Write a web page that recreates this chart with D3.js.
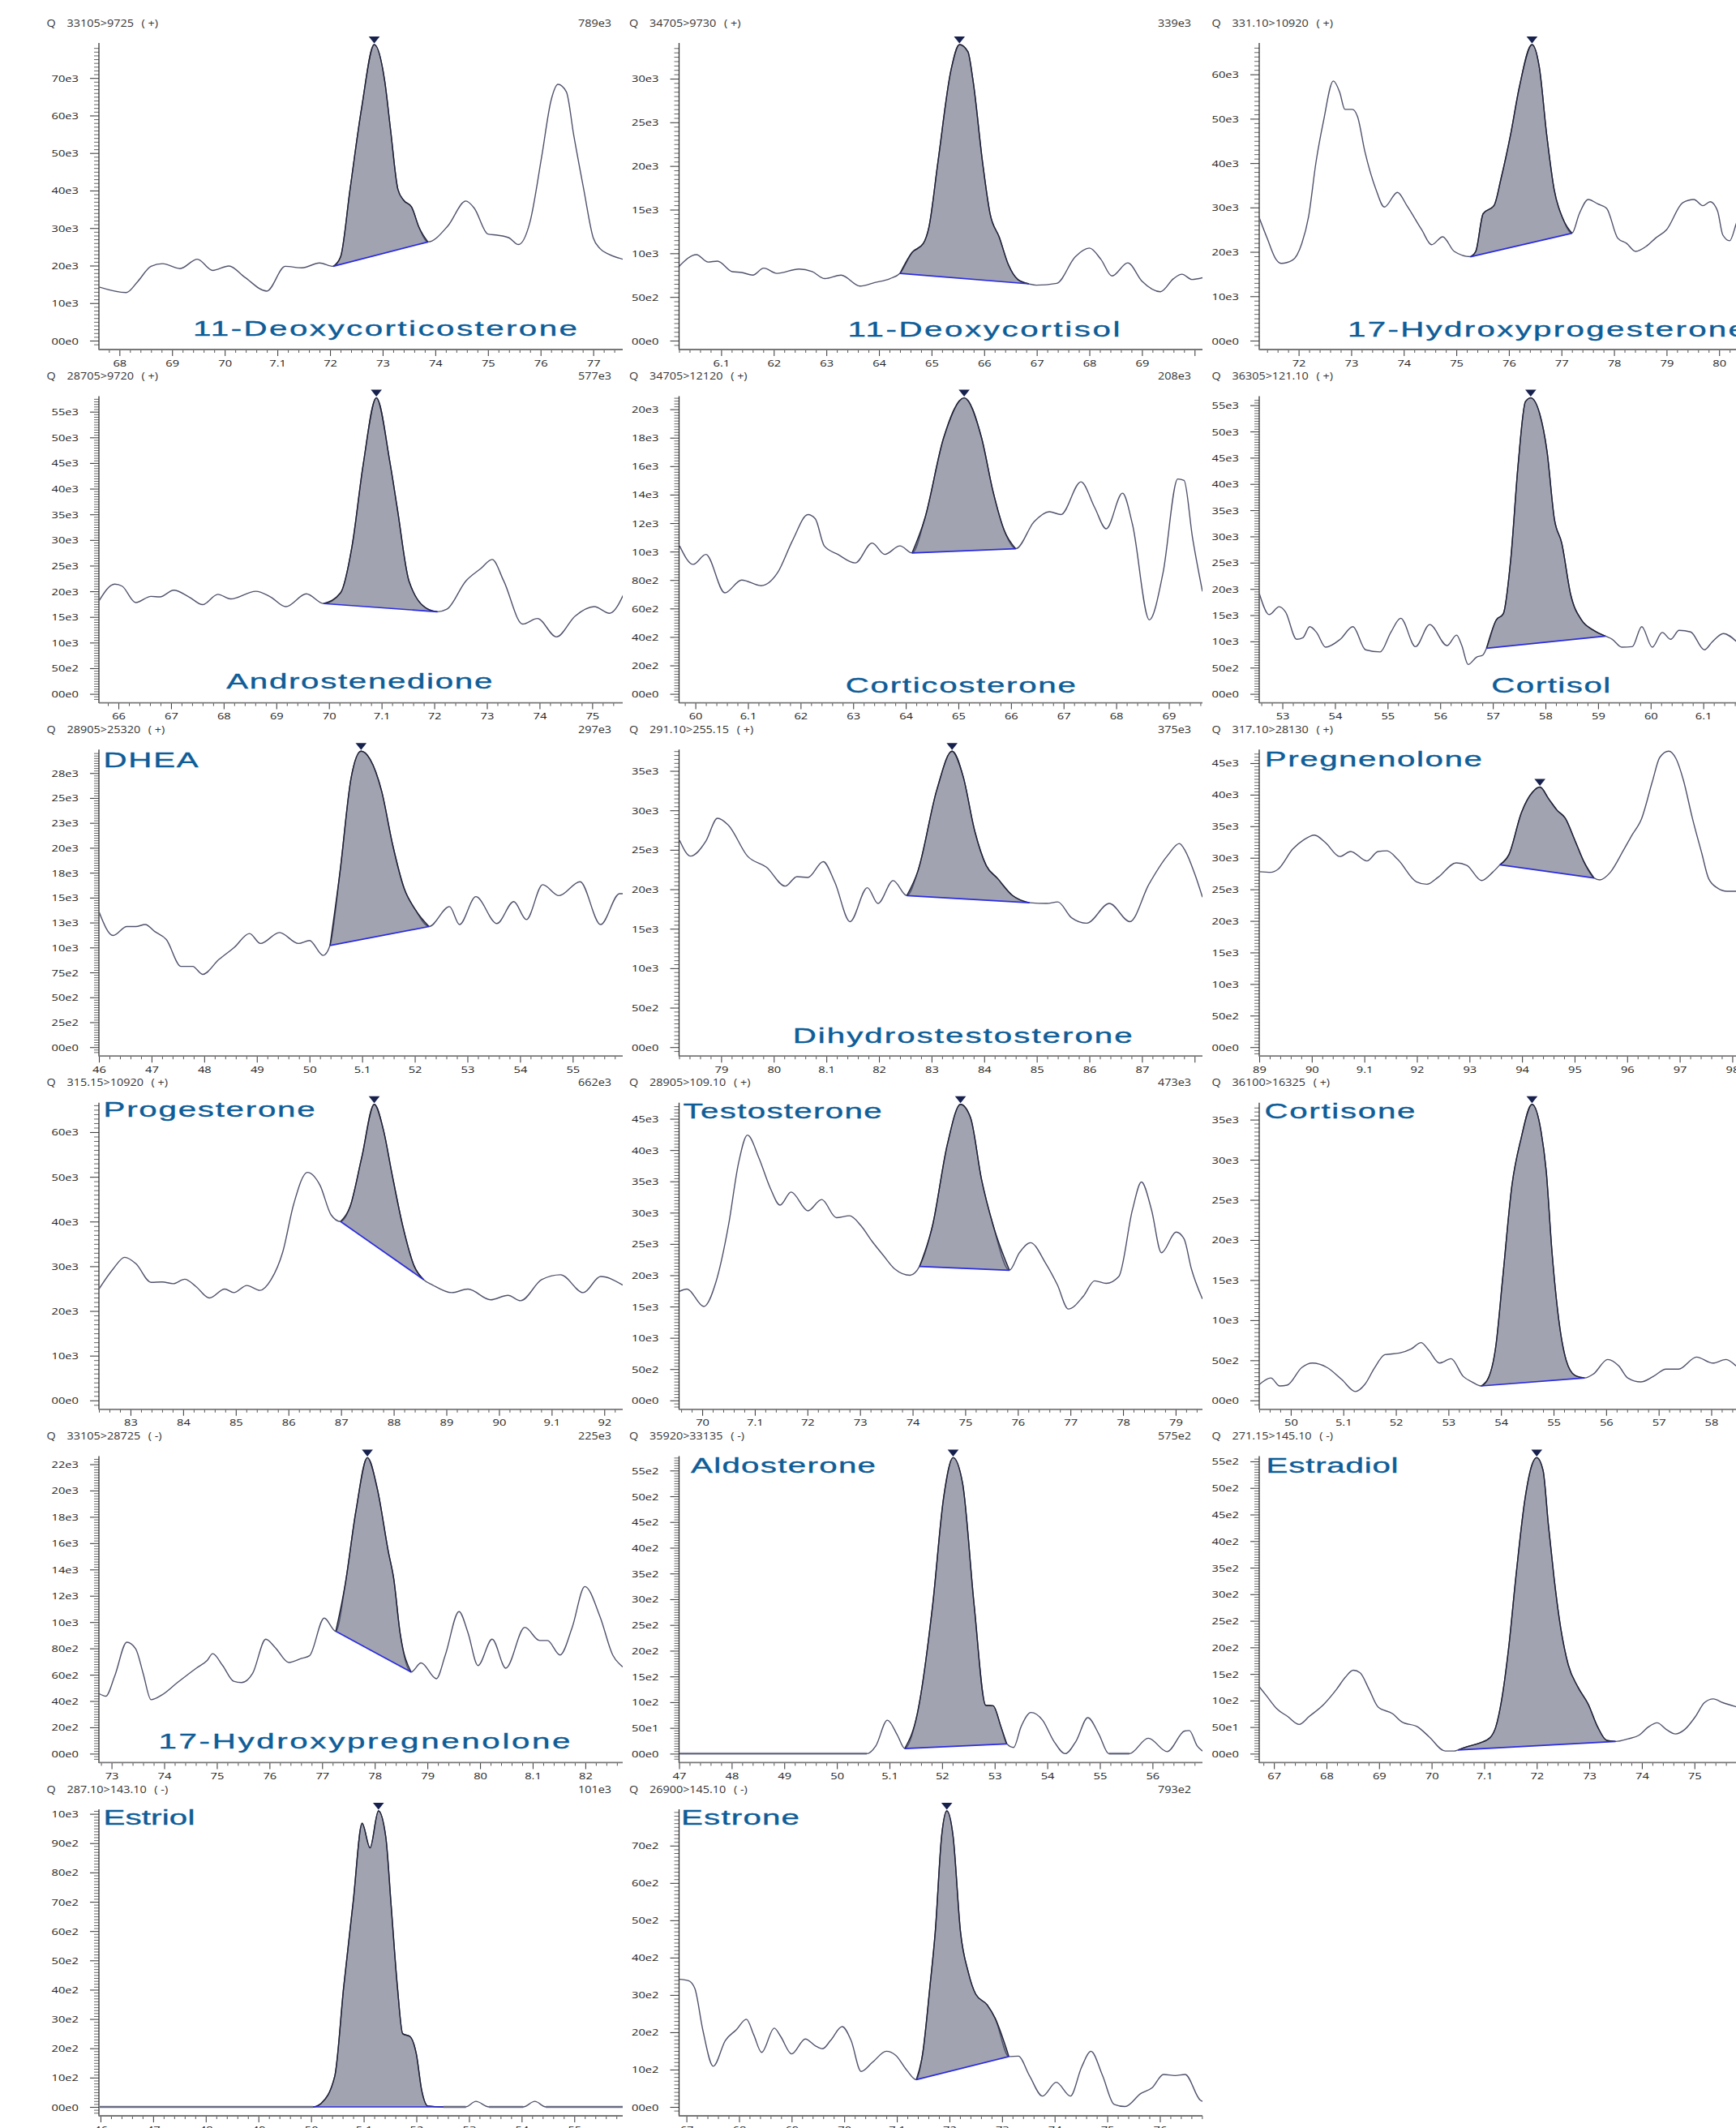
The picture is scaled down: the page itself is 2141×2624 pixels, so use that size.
<!DOCTYPE html>
<html><head><meta charset="utf-8">
<script src="https://cdn.jsdelivr.net/npm/d3@7"></script>
<style>html,body{margin:0;padding:0;background:#fff;}svg{display:block;}</style>
</head><body>
<svg id="c" width="2141" height="2624"></svg>
<script>
// ---------- DATA ----------
const compounds = ["11-Deoxycorticosterone","11-Deoxycortisol","17-Hydroxyprogesterone","Androstenedione","Corticosterone","Cortisol","DHEA","Dihydrostestosterone","Pregnenolone","Progesterone","Testosterone","Cortisone","17-Hydroxypregnenolone","Aldosterone","Estradiol","Estriol","Estrone"];
const transitions = ["33105>9725","34705>9730","331.10>10920","28705>9720","34705>12120","36305>121.10","28905>25320","291.10>255.15","317.10>28130","315.15>10920","28905>109.10","36100>16325","33105>28725","35920>33135","271.15>145.10","287.10>143.10","26900>145.10"];
const polarities = ["+","+","+","+","+","+","+","+","+","+","+","+","-","-","-","-","-"];
const maxLabels = ["789e3","339e3",null,"577e3","208e3",null,"297e3","375e3",null,"662e3","473e3",null,"225e3","575e2",null,"101e3","793e2"];
const yMax = [78.9,33.9,66.7,57.7,20.8,56.4,29.7,37.5,46.9,66.2,47.3,36.9,22.5,5.75,5.57,10.1,7.93]; // thousands
const xDomains = [[67.61,77.56],[60.20,70.15],[71.25,81.2],[65.63,75.58],[59.69,69.64],[52.56,62.5],[46.0,55.95],[78.2,88.15],[89.0,98.95],[82.4,92.35],[69.56,79.51],[49.4,59.35],[72.76,82.71],[47.0,56.95],[66.72,76.67],[45.97,55.92],[66.86,76.81]];
const xTickFirst = [68,61,72,66,60,53,46,79,89,83,70,50,73,47,67,46,67];
const xTickLabels = [
 ["68","69","70","7.1","72","73","74","75","76","77"],
 ["6.1","62","63","64","65","66","67","68","69"],
 ["72","73","74","75","76","77","78","79","80"],
 ["66","67","68","69","70","7.1","72","73","74","75"],
 ["60","6.1","62","63","64","65","66","67","68","69"],
 ["53","54","55","56","57","58","59","60","6.1"],
 ["46","47","48","49","50","5.1","52","53","54","55"],
 ["79","80","8.1","82","83","84","85","86","87"],
 ["89","90","9.1","92","93","94","95","96","97","98"],
 ["83","84","85","86","87","88","89","90","9.1","92"],
 ["70","7.1","72","73","74","75","76","77","78","79"],
 ["50","5.1","52","53","54","55","56","57","58"],
 ["73","74","75","76","77","78","79","80","8.1","82"],
 ["47","48","49","50","5.1","52","53","54","55","56"],
 ["67","68","69","70","7.1","72","73","74","75"],
 ["46","47","48","49","50","5.1","52","53","54","55"],
 ["67","68","69","70","7.1","72","73","74","75","76"]
];
const yTickStep = [10,5,10,5,2,5,2.5,5,5,10,5,5,2,0.5,0.5,1,1];
const yTickLabels = [
 ["00e0","10e3","20e3","30e3","40e3","50e3","60e3","70e3"],
 ["00e0","50e2","10e3","15e3","20e3","25e3","30e3"],
 ["00e0","10e3","20e3","30e3","40e3","50e3","60e3"],
 ["00e0","50e2","10e3","15e3","20e3","25e3","30e3","35e3","40e3","45e3","50e3","55e3"],
 ["00e0","20e2","40e2","60e2","80e2","10e3","12e3","14e3","16e3","18e3","20e3"],
 ["00e0","50e2","10e3","15e3","20e3","25e3","30e3","35e3","40e3","45e3","50e3","55e3"],
 ["00e0","25e2","50e2","75e2","10e3","13e3","15e3","18e3","20e3","23e3","25e3","28e3"],
 ["00e0","50e2","10e3","15e3","20e3","25e3","30e3","35e3"],
 ["00e0","50e2","10e3","15e3","20e3","25e3","30e3","35e3","40e3","45e3"],
 ["00e0","10e3","20e3","30e3","40e3","50e3","60e3"],
 ["00e0","50e2","10e3","15e3","20e3","25e3","30e3","35e3","40e3","45e3"],
 ["00e0","50e2","10e3","15e3","20e3","25e3","30e3","35e3"],
 ["00e0","20e2","40e2","60e2","80e2","10e3","12e3","14e3","16e3","18e3","20e3","22e3"],
 ["00e0","50e1","10e2","15e2","20e2","25e2","30e2","35e2","40e2","45e2","50e2","55e2"],
 ["00e0","50e1","10e2","15e2","20e2","25e2","30e2","35e2","40e2","45e2","50e2","55e2"],
 ["00e0","10e2","20e2","30e2","40e2","50e2","60e2","70e2","80e2","90e2","10e3"],
 ["00e0","10e2","20e2","30e2","40e2","50e2","60e2","70e2"]
];
const peakStart = [72.06,64.4,75.27,69.9,64.12,56.88,50.39,82.53,93.58,86.99,74.13,53.62,77.26,51.29,70.5,50.04,71.37];
const peakEnd   = [73.86,66.85,77.2,72.06,66.09,59.14,52.27,84.86,95.37,88.57,75.84,55.59,78.69,53.23,73.5,52.51,73.13];

const trace1 = [[67.61,14.3],[68.13,12.8],[68.35,15.8],[68.6,19.8],[68.82,20.5],[69.15,19.2],[69.48,21.7],[69.77,18.7],[70.08,19.9],[70.38,16.9],[70.8,13.2],[71.15,19.8],[71.47,19.4],[71.8,20.7],[72.06,19.8],[72.2,22.3],[72.38,40.3],[72.6,62],[72.84,78.9],[73.04,69.1],[73.15,56.2],[73.29,40.3],[73.4,37.4],[73.55,35.6],[73.69,30.2],[73.86,26.3],[74.24,30.6],[74.58,37.2],[74.74,35.3],[75.0,28.4],[75.18,28.1],[75.4,27.4],[75.58,25.6],[75.8,31.7],[76.02,49],[76.2,64.1],[76.33,68.3],[76.49,66.3],[76.63,54.7],[76.82,40.3],[77.0,27.4],[77.13,24.5],[77.3,23],[77.56,21.7]];
const trace2 = [[60.2,8.5],[60.53,9.85],[60.75,9.0],[60.93,9.1],[61.21,7.9],[61.39,7.8],[61.6,7.5],[61.81,8.3],[62.06,7.7],[62.48,8.2],[62.73,7.9],[62.97,7.1],[63.28,7.5],[63.64,6.25],[63.92,6.65],[64.21,7.1],[64.4,7.7],[64.63,10.1],[64.84,11.1],[64.95,13.0],[65.12,20.4],[65.37,31],[65.53,33.9],[65.69,33.1],[65.79,29.7],[65.97,20.4],[66.11,14.6],[66.29,11.8],[66.46,8.7],[66.64,7.0],[66.85,6.5],[66.99,6.35],[67.38,6.56],[67.73,9.6],[68.0,10.6],[68.22,9.3],[68.43,7.4],[68.73,8.9],[69.0,6.8],[69.35,5.6],[69.6,7.1],[69.76,7.6],[69.95,7.0],[70.15,7.2]];
const trace3 = [[71.24,28],[71.4,23.1],[71.57,18.3],[71.67,17.4],[71.88,18.1],[72.06,21.9],[72.19,28],[72.33,40.2],[72.47,49.3],[72.66,58.5],[72.78,56],[72.88,52.1],[73.02,52.1],[73.12,50.5],[73.26,42.6],[73.47,34.1],[73.63,30.1],[73.88,33.4],[74.06,30.4],[74.34,25],[74.53,21.6],[74.74,23.4],[74.96,20.1],[75.27,18.9],[75.37,20.1],[75.51,28.6],[75.72,30.5],[75.85,36.5],[76.03,46.3],[76.2,57.2],[76.44,66.7],[76.58,61.5],[76.72,46.3],[76.86,34.1],[77.03,27.4],[77.2,24.2],[77.34,28.6],[77.51,31.8],[77.69,30.8],[77.86,29.8],[78.07,23.1],[78.24,21.9],[78.41,20.1],[78.62,21.3],[78.79,23.1],[79.0,25.0],[79.31,31.1],[79.52,31.8],[79.69,30.4],[79.83,31.3],[79.97,29.2],[80.07,23.8],[80.2,22.5],[80.34,26.8],[80.5,30]];
const trace4 = [[65.63,18.1],[65.93,21.4],[66.07,21.0],[66.33,17.8],[66.62,19.0],[66.79,18.9],[67.05,20.2],[67.34,18.9],[67.6,17.4],[67.89,19.4],[68.13,18.5],[68.61,20.0],[68.89,18.9],[69.18,17.0],[69.57,19.5],[69.9,17.6],[70.22,19.7],[70.44,28.9],[70.65,44.7],[70.9,57.7],[71.16,45],[71.3,36],[71.52,22],[71.88,16.5],[72.06,16.0],[72.24,16.5],[72.6,22.0],[72.88,24.4],[73.1,26.2],[73.32,22.0],[73.68,13.6],[73.96,14.7],[74.32,11.1],[74.68,15.2],[75.04,17.0],[75.33,15.7],[75.62,19.9]];
const trace5 = [[59.7,10.4],[59.96,9.1],[60.2,9.8],[60.56,7.1],[60.88,8.0],[61.25,7.6],[61.56,8.5],[61.85,10.8],[62.14,12.6],[62.28,12.3],[62.45,10.4],[62.71,9.8],[63.04,9.2],[63.36,10.6],[63.6,9.8],[63.89,10.4],[64.12,9.9],[64.36,12.3],[64.72,18.0],[65.11,20.8],[65.44,18.0],[65.66,14.2],[65.87,11.5],[66.09,10.2],[66.44,12.1],[66.73,12.8],[66.95,12.6],[67.33,14.9],[67.59,13.1],[67.81,11.6],[68.12,14.1],[68.31,11.9],[68.63,5.2],[68.89,8.5],[69.17,15.1],[69.29,15.0],[69.45,11],[69.64,7.2]];
const trace6 = [[52.56,19.2],[52.75,15.1],[52.94,16.6],[53.06,15.6],[53.27,10.4],[53.39,10.7],[53.52,12.8],[53.65,11.7],[53.82,8.9],[54.1,10.4],[54.34,12.8],[54.58,8.4],[54.86,8.0],[55.06,11.7],[55.25,14.4],[55.53,9.0],[55.8,13.2],[56.13,9.2],[56.31,11.2],[56.41,9.2],[56.53,5.6],[56.69,7.0],[56.81,7.4],[56.88,8.7],[57.06,14.0],[57.2,15.3],[57.34,25.6],[57.48,43.6],[57.62,55.7],[57.72,56.4],[57.89,53.4],[58.03,46.2],[58.17,33.3],[58.31,28.7],[58.48,18.9],[58.69,14.0],[58.9,12.2],[59.14,11.0],[59.27,10.4],[59.45,8.9],[59.65,9.0],[59.83,12.8],[60.03,8.9],[60.22,11.7],[60.38,10.4],[60.54,12.1],[60.76,11.8],[61.02,8.4],[61.17,9.9],[61.38,11.5],[61.64,9.9]];
const trace7 = [[46.0,13.6],[46.27,11.2],[46.53,12.1],[46.7,12.1],[46.88,12.3],[47.06,11.6],[47.28,10.8],[47.56,8.1],[47.78,8.1],[47.97,7.3],[48.28,8.8],[48.57,10.0],[48.86,11.4],[49.07,10.4],[49.43,11.5],[49.79,10.4],[50.0,10.7],[50.26,9.2],[50.39,10.2],[50.58,17.6],[50.79,27.0],[50.98,29.7],[51.15,28.9],[51.37,25.7],[51.58,20.3],[51.8,15.9],[52.01,13.8],[52.27,12.1],[52.66,14.1],[52.85,12.3],[53.16,15.1],[53.56,12.4],[53.88,14.6],[54.12,12.8],[54.43,16.3],[54.74,15.2],[55.14,16.6],[55.53,12.3],[55.89,15.4],[55.95,15.4]];
const trace8 = [[78.21,26.2],[78.42,24.2],[78.71,26.1],[78.93,29.0],[79.14,28.1],[79.5,24.2],[79.86,22.8],[80.22,20.4],[80.44,21.6],[80.65,21.5],[80.94,23.5],[81.16,20.9],[81.45,15.9],[81.78,20.2],[81.98,18.2],[82.27,21.1],[82.53,19.2],[82.74,22.3],[83.1,32.6],[83.39,37.5],[83.6,34.3],[83.82,27.4],[84.04,23.0],[84.25,21.4],[84.54,19.2],[84.86,18.3],[85.19,18.2],[85.4,18.4],[85.66,16.4],[85.95,15.7],[86.38,18.2],[86.77,15.9],[87.13,20.6],[87.49,24.3],[87.71,25.8],[87.82,24.9],[88.0,22],[88.15,19]];
const trace9 = [[89.0,27.8],[89.22,27.7],[89.36,28.2],[89.64,31.4],[89.84,32.8],[90.05,33.6],[90.26,32.4],[90.53,30.2],[90.74,31.0],[91.05,29.5],[91.26,31.0],[91.43,31.1],[91.64,29.7],[91.99,26.2],[92.19,25.8],[92.4,26.9],[92.75,29.2],[92.95,28.8],[93.23,26.4],[93.44,27.7],[93.58,28.9],[93.75,30.5],[93.99,37.2],[94.2,40.4],[94.34,41.2],[94.51,39.3],[94.67,37.5],[94.82,36.3],[95.0,32.9],[95.17,29.5],[95.37,26.8],[95.48,26.5],[95.68,27.7],[95.93,31.2],[96.1,33.7],[96.27,36.1],[96.48,42.1],[96.62,45.9],[96.79,46.9],[96.93,45.7],[97.07,42.3],[97.24,36.3],[97.42,30.7],[97.55,26.7],[97.72,25.2],[97.9,24.7],[98.12,24.7],[98.95,24.7]];
const trace10 = [[82.4,24.9],[82.67,29.4],[82.89,32.0],[83.1,30.6],[83.39,26.4],[83.6,26.5],[83.81,26.1],[84.03,27.1],[84.24,25.5],[84.5,22.9],[84.79,24.9],[84.96,24.1],[85.21,25.7],[85.46,24.6],[85.67,27.0],[85.89,33.1],[86.1,43.9],[86.36,51.0],[86.6,48.1],[86.81,41.5],[86.99,40.0],[87.17,43.3],[87.39,54.2],[87.63,66.2],[87.81,60.2],[87.96,51.1],[88.17,39.1],[88.39,30.0],[88.57,27.0],[88.74,25.8],[89.1,24.1],[89.41,24.9],[89.84,22.5],[90.17,23.5],[90.41,22.3],[90.81,27.0],[91.17,28.1],[91.6,24.1],[91.93,27.7],[92.35,25.8]];
const trace11 = [[69.56,17.4],[69.71,17.8],[70.03,15.0],[70.26,18.9],[70.5,28.0],[70.69,37.9],[70.86,42.4],[71.08,38.7],[71.29,34.0],[71.48,31.2],[71.69,33.3],[72.01,30.3],[72.27,32.1],[72.55,29.2],[72.8,29.5],[73.01,28.0],[73.23,25.4],[73.44,23.2],[73.66,21.0],[73.95,20.0],[74.13,21.4],[74.38,28.0],[74.66,40.9],[74.91,47.3],[75.1,45.2],[75.31,35.3],[75.53,28.0],[75.84,20.8],[76.03,23.6],[76.24,25.2],[76.53,21.9],[76.75,18.5],[76.96,14.6],[77.25,16.7],[77.46,19.1],[77.68,18.7],[77.92,19.8],[78.18,30.5],[78.35,34.9],[78.54,30.5],[78.73,23.6],[79.01,26.9],[79.16,25.8],[79.3,21],[79.51,16.2]];
const trace12 = [[49.39,1.9],[49.62,2.8],[49.79,1.8],[49.93,1.9],[50.21,4.1],[50.41,4.65],[50.69,4.1],[50.97,2.6],[51.23,1.1],[51.41,2.0],[51.59,4.0],[51.79,5.7],[52.07,5.9],[52.29,6.4],[52.48,7.2],[52.62,6.3],[52.83,4.65],[53.05,5.2],[53.28,3.0],[53.45,2.3],[53.62,1.8],[53.76,2.8],[53.9,6.7],[54.03,15.1],[54.21,26.9],[54.38,32.6],[54.59,36.9],[54.76,33.6],[54.86,28.6],[54.97,18.5],[55.1,10.0],[55.24,5.0],[55.41,3.1],[55.59,2.8],[55.76,3.3],[56.03,5.1],[56.24,4.3],[56.41,2.8],[56.66,2.3],[56.9,3.0],[57.14,3.9],[57.38,3.9],[57.72,5.4],[58.03,4.65],[58.28,5.1],[58.47,4.3]];
const trace13 = [[72.76,4.57],[72.89,4.37],[73.06,5.9],[73.29,8.47],[73.46,7.96],[73.6,6.1],[73.75,4.1],[73.96,4.47],[74.25,5.4],[74.61,6.5],[74.82,7.1],[74.92,7.6],[75.11,6.7],[75.32,5.5],[75.47,5.4],[75.68,6.1],[75.93,8.7],[76.11,8.06],[76.37,6.93],[76.61,7.24],[76.76,7.44],[77.04,10.3],[77.26,9.3],[77.44,12.9],[77.64,18.4],[77.86,22.5],[78.05,20.1],[78.26,15.3],[78.36,13.3],[78.48,9.2],[78.69,6.2],[78.88,6.9],[79.17,5.7],[79.34,7.5],[79.6,10.8],[79.77,9.2],[79.96,6.7],[80.23,8.7],[80.49,6.5],[80.85,9.6],[81.13,8.6],[81.28,8.6],[81.52,7.5],[81.75,9.6],[81.99,12.7],[82.28,10.4],[82.52,7.5],[82.71,6.6]];
const trace14 = [[47.0,0],[50.57,0],[50.74,0.15],[50.96,0.65],[51.15,0.36],[51.29,0.1],[51.53,0.78],[51.82,2.88],[52.03,4.98],[52.21,5.75],[52.39,5.25],[52.61,2.88],[52.83,0.94],[52.97,0.93],[53.12,0.52],[53.23,0.19],[53.36,0.12],[53.5,0.52],[53.69,0.8],[53.91,0.65],[54.12,0.25],[54.34,0],[54.55,0.25],[54.77,0.7],[54.98,0.38],[55.17,0],[55.56,0],[55.92,0.3],[56.28,0.04],[56.61,0.44],[56.7,0.45],[56.85,0.15],[56.95,0.05]];
const trace15 = [[66.72,1.26],[66.88,1.06],[67.05,0.85],[67.26,0.70],[67.48,0.55],[67.67,0.70],[67.95,0.93],[68.19,1.21],[68.36,1.44],[68.51,1.57],[68.64,1.52],[68.81,1.21],[68.98,0.88],[69.26,0.75],[69.43,0.6],[69.74,0.5],[69.95,0.32],[70.26,0.05],[70.43,0.05],[70.5,0.07],[70.67,0.13],[70.91,0.2],[71.11,0.3],[71.22,0.5],[71.33,1.0],[71.47,2.03],[71.6,3.3],[71.78,4.82],[71.91,5.44],[72.0,5.57],[72.12,5.33],[72.22,4.32],[72.33,3.3],[72.43,2.53],[72.6,1.67],[72.78,1.26],[72.98,0.93],[73.16,0.5],[73.33,0.25],[73.5,0.23],[73.74,0.28],[73.95,0.35],[74.12,0.5],[74.29,0.58],[74.47,0.45],[74.64,0.37],[74.81,0.45],[75.02,0.7],[75.19,0.96],[75.36,1.03],[75.54,0.96],[75.8,0.88],[76.1,0.8]];
const trace16 = [[45.97,0],[50.04,0],[50.19,0.12],[50.45,1.05],[50.62,4.1],[50.8,7.0],[50.97,9.68],[51.12,8.84],[51.28,10.1],[51.42,9.2],[51.52,6.9],[51.64,4.1],[51.74,2.5],[51.88,2.4],[52.0,1.8],[52.1,0.58],[52.22,0.03],[52.51,0],[52.94,0],[53.13,0.19],[53.38,0],[54.03,0],[54.25,0.19],[54.46,0],[55.92,0]];
const trace17 = [[66.86,3.42],[67.04,3.38],[67.16,3.17],[67.31,2.07],[67.51,1.09],[67.74,1.78],[67.95,2.07],[68.14,2.35],[68.28,1.93],[68.43,1.46],[68.67,2.11],[68.79,1.89],[69.0,1.42],[69.26,1.82],[69.45,1.64],[69.59,1.56],[69.74,1.78],[69.96,2.15],[70.13,1.78],[70.32,0.95],[70.54,1.2],[70.8,1.49],[70.98,1.38],[71.19,0.98],[71.37,0.73],[71.49,1.42],[71.63,3.24],[71.73,4.69],[71.85,7.24],[71.95,7.93],[72.07,7.24],[72.21,4.69],[72.36,3.6],[72.5,3.02],[72.72,2.73],[72.87,2.37],[73.13,1.35],[73.31,1.36],[73.52,0.84],[73.77,0.29],[74.03,0.66],[74.3,0.29],[74.51,1.06],[74.69,1.49],[74.91,0.84],[75.13,0.07],[75.34,0.01],[75.64,0.36],[75.85,0.51],[76.07,0.87],[76.29,0.84],[76.48,0.87],[76.77,0.18],[76.81,0.15]];
const traces = [trace1,trace2,trace3,trace4,trace5,trace6,trace7,trace8,trace9,trace10,trace11,trace12,trace13,trace14,trace15,trace16,trace17];

// ---------- LAYOUT (positions / styles) ----------
const ROW_H = 435.6;
const colAxisX = [122, 837.5, 1553];
const colAxisEnd = [768, 1483, 2198];
const colHeaderX = [57.6, 776, 1494.5];
const colMaxX = [754, 1469, 2184];
const nameX = [238,1045.4,1662,279.3,1042.8,1839.3,127.6,977.7,1559.8,127.6,842.6,1559.4,195.5,852,1561.6,127.4,840];
const nameBase = [414.3,415,415,413.6,418.6,418.6,74.3,414.3,73.6,70.6,71.9,72.2,413.9,73.9,73.9,72.2,72.2];
const nameW = [474,336,492,328,284,147,117,419,268,261,245,186,508,228,163,113,146];
const NAME_STRETCH = 1.58;
const SMALL_FONT = "'Open Sans', 'Noto Sans', sans-serif";
const NAME_FONT = "'Liberation Sans', Arial, sans-serif";

const svg = d3.select("#c");
svg.append("rect").attr("width",2141).attr("height",2624).attr("fill","#fff");
const defs = svg.append("defs");

traces.forEach((tr, i) => {
  const r = Math.floor(i/3), c = i%3, top = r*ROW_H;
  const ax = colAxisX[c], axEnd = colAxisEnd[c];
  const x = d3.scaleLinear().domain(xDomains[i]).range([ax, axEnd]);
  const y = d3.scaleLinear().domain([0, yMax[i]]).range([top+420, top+55]);
  const g = svg.append("g");

  // header
  const ht = g.append("text")
    .attr("transform", `translate(${colHeaderX[c]},${top+32.6}) scale(1.2,1)`)
    .attr("font-family", SMALL_FONT).attr("font-size", 12).attr("fill", "#333");
  ht.append("tspan").text("Q");
  ht.append("tspan").attr("dx", 11.5).text(transitions[i]);
  ht.append("tspan").attr("dx", 8).text("( " + polarities[i] + ")");
  if (maxLabels[i]) {
    g.append("text")
      .attr("transform", `translate(${colMaxX[c]},${top+32.6}) scale(1.2,1)`)
      .attr("text-anchor","end").attr("font-family", SMALL_FONT).attr("font-size", 12)
      .attr("fill", "#333").text(maxLabels[i]);
  }

  // y axis minor ticks
  const step = yTickStep[i], m = step/10;
  const minVals = [];
  for (let k = -4; k*m <= yMax[i] + 1e-9; k++) {
    if (k % 10 === 0) continue;
    const v = k*m;
    if (y(v) <= top+429) minVals.push(v);
  }
  const yMin = g.append("g").attr("transform", `translate(${ax},0)`)
    .call(d3.axisLeft(y).tickValues(minVals).tickSize(6).tickFormat(""));
  yMin.select(".domain").remove();
  yMin.selectAll("line").attr("stroke", "#666").attr("stroke-width", 1);

  // y axis major ticks
  const majVals = yTickLabels[i].map((_, k) => k*step);
  const yMaj = g.append("g").attr("transform", `translate(${ax},0)`)
    .call(d3.axisLeft(y).tickValues(majVals).tickSize(11).tickFormat((d, k) => yTickLabels[i][k]));
  yMaj.select(".domain").remove();
  yMaj.attr("font-family", SMALL_FONT).attr("font-size", 11.3);
  yMaj.selectAll("line").attr("stroke", "#444").attr("stroke-width", 1.1);
  yMaj.selectAll("text").attr("x", null).attr("dy", null)
    .attr("transform", "translate(-25,4) scale(1.3,1)").attr("fill", "#222").attr("text-anchor","end");

  // x axis minor
  const xd = xDomains[i];
  const xMinVals = [];
  for (let k = Math.ceil(xd[0]*5 - 1e-9); k/5 <= xd[1] + 1e-9; k++) {
    if (k % 5 === 0) continue;
    xMinVals.push(k/5);
  }
  const xMin = g.append("g").attr("transform", `translate(0,${top+431})`)
    .call(d3.axisBottom(x).tickValues(xMinVals).tickSize(4).tickFormat(""));
  xMin.select(".domain").remove();
  xMin.selectAll("line").attr("stroke", "#555");

  // x axis major
  const xMajVals = [];
  for (let v = Math.ceil(xd[0] - 1e-9); v <= xd[1] + 1e-9; v++) xMajVals.push(v);
  const xMaj = g.append("g").attr("transform", `translate(0,${top+431})`)
    .call(d3.axisBottom(x).tickValues(xMajVals).tickSize(8)
      .tickFormat(d => { const k = d - xTickFirst[i]; return (k >= 0 && k < xTickLabels[i].length) ? xTickLabels[i][k] : ""; }));
  xMaj.select(".domain").remove();
  xMaj.attr("font-family", SMALL_FONT).attr("font-size", 11.3);
  xMaj.selectAll("line").attr("stroke", "#444").attr("stroke-width", 1.1);
  xMaj.selectAll("text").attr("y", null).attr("dy", null)
    .attr("transform", "translate(0,20.5) scale(1.3,1)").attr("fill", "#222");

  // axis lines
  g.append("line").attr("x1", ax).attr("x2", ax).attr("y1", top+53).attr("y2", top+431.5)
    .attr("stroke", "#333").attr("stroke-width", 1.3);
  g.append("line").attr("x1", ax).attr("x2", axEnd).attr("y1", top+431).attr("y2", top+431)
    .attr("stroke", "#777").attr("stroke-width", 1.8);

  // clip
  const cid = "clip" + i;
  defs.append("clipPath").attr("id", cid).append("rect")
    .attr("x", ax+0.5).attr("y", top+30).attr("width", axEnd-ax-0.5).attr("height", 400);
  const pg = g.append("g").attr("clip-path", `url(#${cid})`);

  const line = d3.line().x(d => x(d[0])).y(d => y(d[1])).curve(d3.curveMonotoneX);

  // zero band
  for (let k = 0; k < tr.length-1; k++) {
    if (tr[k][1] === 0 && tr[k+1][1] === 0) {
      pg.append("line").attr("x1", x(tr[k][0])).attr("x2", x(tr[k+1][0]))
        .attr("y1", y(0)).attr("y2", y(0)).attr("stroke", "#b6b8c4").attr("stroke-width", 3.2);
    }
  }

  // peak fill
  const sub = tr.filter(d => d[0] >= peakStart[i]-1e-9 && d[0] <= peakEnd[i]+1e-9);
  const s0 = sub[0];
  pg.append("path").attr("d", line(sub) + `L${x(s0[0])},${y(s0[1])}Z`)
    .attr("fill", "#a1a3b0").attr("stroke", "none");

  // trace
  pg.append("path").attr("d", line(tr)).attr("fill", "none")
    .attr("stroke", "#4f526c").attr("stroke-width", 1.4);
  // peak outline
  pg.append("path").attr("d", line(sub)).attr("fill", "none")
    .attr("stroke", "#1e2036").attr("stroke-width", 1.4);
  // baseline
  const s1 = sub[sub.length-1];
  pg.append("line").attr("x1", x(s0[0])).attr("y1", y(s0[1])).attr("x2", x(s1[0])).attr("y2", y(s1[1]))
    .attr("stroke", "#2b2be0").attr("stroke-width", 1.7);

  // apex marker
  const apex = sub.reduce((a, b) => b[1] > a[1] ? b : a);
  const axp = x(apex[0]), ayp = y(apex[1]);
  g.append("path").attr("d", `M${axp-6.8},${ayp-10}L${axp+6.8},${ayp-10}L${axp},${ayp-1.5}Z`)
    .attr("fill", "#17214d");

  // compound name
  g.append("text")
    .attr("transform", `translate(${nameX[i]},${top+nameBase[i]}) scale(${NAME_STRETCH},1)`)
    .attr("font-family", NAME_FONT).attr("font-size", 25.5).attr("fill", "#0e5d98")
    .attr("stroke", "#0e5d98").attr("stroke-width", 0.35)
    .attr("textLength", nameW[i]/NAME_STRETCH).attr("lengthAdjust", "spacing")
    .text(compounds[i]);
});
</script>
</body></html>
